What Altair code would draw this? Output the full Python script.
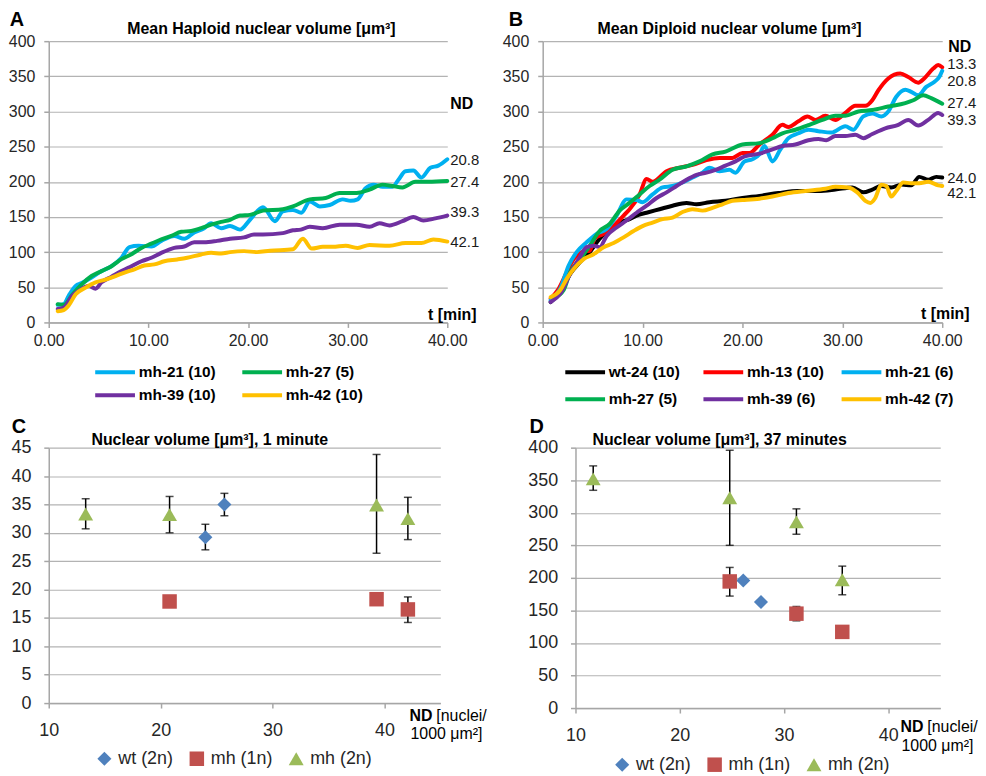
import altair as alt
import pandas as pd

FONT = "Liberation Sans"

# ---------------- Panel A: mean haploid nuclear volume ----------------
A_NAMES = ["mh-21 (10)", "mh-27 (5)", "mh-39 (10)", "mh-42 (10)"]
A_COLORS = ["#00B0F0", "#00B050", "#7030A0", "#FFC000"]
A_ND = ["20.8", "27.4", "39.3", "42.1"]

A_MH21_T = [0.9, 1.5, 2, 2.7, 3.3, 4.3, 5.3, 6.3, 7.3, 8.1, 9, 10.3, 11.3, 12.6, 13.6, 14.6, 15.6, 16.3, 17.3,
            18.2, 19.2, 20.2, 21.5, 22.7, 23.5, 24.5, 25.35, 26.2, 27.2, 28.2, 29.5, 30.3, 31, 31.8, 32.6, 33.5,
            34.5, 35.1, 35.8, 36.6, 37.4, 38.3, 39.1, 40]
A_MH21_V = [25, 26, 38, 52, 56, 64, 73, 80, 92, 107, 109, 108, 116, 123, 119, 128, 134, 141, 134,
            137, 132, 146, 164, 144, 158, 160, 156, 172, 165, 167, 175, 173, 175, 191, 196, 193,
            193, 203, 215, 216, 206, 220, 223, 232]

A_MH27_T = [0.9, 1.5, 2.4, 3.3, 4.3, 5.3, 6.3, 7.3, 8.3, 9.3, 10.3, 11.3, 12.3, 13.3, 14.3, 15.3, 16.3, 17.3,
            18.2, 19.2, 20.2, 21.5, 23.5, 24.5, 26.2, 27.8, 29.2, 30.9, 32.2, 33.5, 34.5, 35.5, 36.8, 38.1, 40]
A_MH27_V = [26, 25, 40, 54, 66, 73, 80, 90, 97, 106, 112, 118, 123, 129, 130, 134, 139, 143,
            146, 152, 153, 159, 161, 165, 175, 177, 184, 184, 189, 196, 194, 192, 200, 200, 201]

A_MH39_T = [0.9, 1.5, 2.35, 3, 4, 4.7, 5.3, 6.3, 7.3, 8.3, 9.3, 10.3, 11.3, 12.6, 13.6, 14.6, 15.6, 16.9,
            18.2, 19.6, 20.6, 21.5, 23.5, 24.5, 25.3, 26.2, 27.5, 29.2, 30.9, 32.2, 33.2, 34.2, 35.5, 36.6,
            37.6, 38.8, 40]
A_MH39_V = [19, 21, 38, 45, 52, 48, 57, 65, 73, 80, 87, 92, 99, 106, 108, 114, 114, 116,
            119, 121, 125, 125, 127, 131, 132, 136, 134, 139, 139, 136, 141, 138, 144, 150,
            145, 148, 152]

A_MH42_T = [0.9, 1.5, 2, 2.7, 3.7, 4.7, 5.7, 6.7, 7.6, 8.6, 9.6, 10.6, 11.6, 12.9, 13.9, 15.3, 16.3, 17.3,
            18.2, 19.6, 20.9, 22.2, 24.5, 25.5, 26.4, 27.5, 28.5, 29.8, 31, 32.2, 34.2, 35.8, 37.4, 38.6, 40]
A_MH42_V = [16, 17.5, 24, 40, 49.5, 57, 61, 66, 71, 75.5, 81, 82.5, 87, 89.6, 92, 96.7, 99, 98,
            100, 101.4, 100, 102, 104, 119, 105, 107.5, 107.5, 109, 106, 110, 109, 113, 113, 118, 115]

# ---------------- Panel B: mean diploid nuclear volume ----------------
B_NAMES = ["wt-24 (10)", "mh-13 (10)", "mh-21 (6)", "mh-27 (5)", "mh-39 (6)", "mh-42 (7)"]
B_COLORS = ["#000000", "#FF0000", "#00B0F0", "#00B050", "#7030A0", "#FFC000"]
B_ND = ["24.0", "13.3", "20.8", "27.4", "39.3", "42.1"]

B_WT24_T = [0.8, 1.76, 2.75, 3.75, 4.7, 5.7, 6.7, 7.7, 8.7, 9.4, 10.4, 11.7, 13, 14.4, 15.4, 16.7, 18.3, 20,
            21.7, 23.6, 25.6, 27.6, 29.3, 31, 32.1, 33, 33.9, 34.9, 35.9, 36.9, 37.7, 38.6, 39.4, 40]
B_WT24_V = [29, 43, 69, 86, 100, 119, 133, 142, 147, 152, 156, 161, 166, 170, 168, 171, 173, 177,
            180, 184, 187, 187, 189, 192, 185, 189, 194, 192, 196, 195, 207, 203, 207, 206]

B_MH13_T = [0.8, 1.6, 2.4, 3.1, 4.1, 4.7, 5.2, 6.1, 7.1, 8.1, 8.7, 9.7, 10.4, 11, 12.4, 13.7, 15, 16.4, 17.7,
            19, 20, 20.7, 21.7, 23, 24, 24.6, 25.6, 26.5, 27.3, 28.3, 29.3, 30.3, 31.3, 32.3, 33, 33.6, 34.6,
            35.8, 36.6, 37.6, 38.2, 39.1, 39.6, 40]
B_MH13_V = [34, 48, 71, 90, 101, 102, 119, 126, 137, 152, 161, 182, 204, 200, 215, 220, 224, 231, 234,
            234, 241, 241, 253, 267, 281, 278, 286, 293, 288, 294, 288, 298, 308, 308, 316, 330, 347,
            354, 349, 341, 347, 361, 366, 363]

B_MH21_T = [0.8, 1.76, 2.6, 3.4, 4.4, 5.4, 6.4, 7.4, 8.4, 9.4, 10, 11, 12, 13, 14, 15, 16, 16.7, 17.7, 18.7,
            19.3, 20.2, 21, 21.7, 22.2, 23, 23.8, 24.6, 25.6, 26.6, 27.6, 28.9, 30.3, 31.1, 32.1, 33, 33.9,
            34.6, 35.4, 36.3, 36.9, 37.6, 38.4, 39.2, 39.7, 40]
B_MH21_V = [31.5, 48, 81, 100, 114, 126, 133, 152, 175, 174, 171, 182, 192, 194, 199, 206, 213, 220, 215, 217,
            213, 229, 232, 239, 251, 229, 246, 262, 269, 274, 272, 270, 279, 274, 293, 297, 293,
            300, 321, 331, 328, 323, 335, 342, 349, 358]

B_MH27_T = [1.1, 2.1, 2.75, 3.75, 4.7, 5.7, 6.7, 7.7, 8.7, 9.7, 10.7, 11.7, 13, 14.4, 15.7, 17, 18.3, 20,
            21.7, 23, 24, 25.3, 26.7, 28, 29.3, 30.3, 31.6, 33, 34.6, 36.3, 37.1, 38.1, 38.9, 40]
B_MH27_V = [34, 46, 71.5, 90, 109, 130, 140, 159, 170, 182, 194, 203, 217, 222, 229, 239, 243, 253,
            255, 262, 269, 274, 281, 288, 294, 294, 300, 302, 307, 312, 316, 323, 319, 311]

B_MH39_T = [0.8, 1.76, 2.75, 3.6, 4.4, 5.1, 5.7, 6.4, 7.4, 8.4, 9.4, 10.4, 11.4, 12.4, 13.4, 14.4, 15.4, 16.4,
            17.3, 18.3, 19.3, 20.2, 21.7, 23, 24, 25.3, 26.6, 27.6, 28.4, 29.3, 30.3, 31.3, 32.1, 33, 34.3,
            35.6, 36.6, 37.6, 38.6, 39.6, 40]
B_MH39_V = [29, 41, 69, 90, 107, 109, 107, 123, 135, 145, 156, 166, 177, 185, 194, 203, 210, 213,
            217, 223, 229, 236, 240, 246, 251, 253, 259, 261, 259, 265, 265, 267, 262, 268, 276,
            281, 288, 280, 288, 298, 295]

B_MH42_T = [0.8, 1.76, 2.4, 3.1, 4.1, 5.1, 6.1, 7.1, 8.1, 9.1, 10, 11, 12, 13, 14, 15, 16, 17, 18, 19, 20,
            21.7, 23, 24.6, 26.3, 28.3, 29.3, 30.6, 31.5, 32.3, 32.8, 33.3, 33.9, 34.4, 34.9, 35.4, 36.1,
            36.9, 37.7, 38.6, 39.6, 40]
B_MH42_V = [36, 46, 62, 76, 90, 97, 107, 113, 121, 130, 137, 142, 147, 149, 157, 161, 159, 163, 168, 173, 174,
            176, 179, 184, 187, 190, 193, 192, 185, 173, 170, 177, 196, 194, 179, 187, 199,
            198, 198, 200, 195, 194]

# ---------------- Panels C and D: nuclear volume vs ND ----------------
GROUPS = ["wt (2n)", "mh (1n)", "mh (2n)"]
GROUP_COLORS = ["#4F81BD", "#C0504D", "#9BBB59"]
GROUP_SHAPES = ["diamond", "square", "triangle-up"]
GROUP_SIZES = [200, 225, 270]

# 1 minute
C_WT_ND = [24.0, 25.7]
C_WT_V = [29.2, 35.0]
C_WT_LO = [27.0, 33.0]
C_WT_HI = [31.5, 36.95]
C_MH1_ND = [20.8, 39.3, 42.1]
C_MH1_V = [17.9, 18.3, 16.5]
C_MH1_LO = [17.9, 18.3, 14.2]
C_MH1_HI = [17.9, 18.3, 18.7]
C_MH2_ND = [13.3, 20.8, 39.3, 42.1]
C_MH2_V = [33.3, 33.2, 34.9, 32.5]
C_MH2_LO = [30.7, 30.0, 26.4, 28.8]
C_MH2_HI = [36.0, 36.4, 43.8, 36.25]

# 37 minutes
D_WT_ND = [26.1, 27.8]
D_WT_V = [196, 163]
D_WT_LO = [196, 163]
D_WT_HI = [196, 163]
D_MH1_ND = [24.8, 31.2, 35.6]
D_MH1_V = [194.5, 145, 117]
D_MH1_LO = [172, 134, 117]
D_MH1_HI = [216, 156, 117]
D_MH2_ND = [11.7, 24.8, 31.2, 35.6]
D_MH2_V = [352, 323, 286, 197]
D_MH2_LO = [334.5, 250, 267, 174]
D_MH2_HI = [372, 396, 306, 218]

# label nudges (style only, in data units) so end labels do not collide
A_NUDGE = [-1, -1, 5, 0]
B_NUDGE = [0, 4, -14, 1, -7, -10]

# legend line symbol: a 40px stroke drawn to the right of a 10px nominal symbol box
LINE_SYMBOL = "M-1,0L7,0"


def lines_df(names, ts, vs):
    rows = []
    for n, tt, vv in zip(names, ts, vs):
        for t, v in zip(tt, vv):
            rows.append({"t": t, "v": v, "s": n})
    return pd.DataFrame(rows)


def end_labels(names, vs, nds, nudges):
    return pd.DataFrame({"t": [40] * len(names), "v": [v[-1] + d for v, d in zip(vs, nudges)],
                         "lab": nds})


def txt(text, x, y, size, weight="normal", align="left"):
    return alt.Chart(pd.DataFrame({"txt": [text]})).mark_text(
        font=FONT, fontSize=size, fontWeight=weight, align=align, baseline="alphabetic", color="black"
    ).encode(x=alt.value(x), y=alt.value(y), text="txt:N")


def line_panel(df, lab_df, names, colors, W, H, letter, letter_x, title, title_x, nd_x, nd_y,
               t_dx, t_dy, lab_dx, leg_x, leg_y, leg_cols, col_pad, row_pad):
    xenc = alt.X("t:Q", scale=alt.Scale(domain=[0, 40], nice=False, zero=False),
                 axis=alt.Axis(values=[0, 10, 20, 30, 40], format=".2f", grid=False, labelFontSize=16,
                               labelPadding=5, labelFlush=False, labelOverlap=False,
                               title="t [min]", titleX=W + t_dx, titleY=t_dy,
                               titleAlign="right", titleBaseline="middle", titleFontSize=16,
                               titleFontWeight="bold", titleColor="black"))
    yenc = alt.Y("v:Q", scale=alt.Scale(domain=[0, 400], nice=False),
                 axis=alt.Axis(values=list(range(0, 401, 50)), grid=True, labelFontSize=16,
                               labelPadding=9, labelFlush=False, labelOverlap=False, title=None))
    lines = alt.Chart(df).mark_line(strokeWidth=4, interpolate="monotone", strokeCap="round",
                                    strokeJoin="round").encode(
        x=xenc, y=yenc,
        color=alt.Color("s:N", scale=alt.Scale(domain=names, range=colors), sort=names,
                        legend=alt.Legend(orient="none", legendX=leg_x, legendY=leg_y, direction="horizontal",
                                          columns=leg_cols, symbolType=LINE_SYMBOL, symbolSize=100,
                                          symbolStrokeWidth=4, labelFontSize=15.5, labelFontWeight="bold",
                                          labelFont=FONT, labelColor="black", labelOffset=31,
                                          columnPadding=col_pad, rowPadding=row_pad, gridAlign="all",
                                          title=None, padding=0, labelLimit=300)),
    )
    labels = alt.Chart(lab_df).mark_text(font=FONT, fontSize=15, align="left", baseline="middle",
                                         dx=lab_dx, color="#1a1a1a").encode(x=xenc, y=yenc, text="lab:N")
    return alt.layer(
        lines, labels,
        txt(letter, letter_x, -15, 20, "bold", "center"),
        txt(title, title_x, -7, 16, "bold", "center"),
        txt("ND", W + nd_x, nd_y, 16, "bold"),
    ).properties(width=W, height=H)


def scatter_df(nd_lists, v_lists, lo_lists, hi_lists):
    rows = []
    for g, nds, vs, los, his in zip(GROUPS, nd_lists, v_lists, lo_lists, hi_lists):
        for nd, v, lo, hi in zip(nds, vs, los, his):
            rows.append({"nd": nd, "vol": v, "lo": lo, "hi": hi, "grp": g})
    return pd.DataFrame(rows)


def scatter_panel(df, W, H, ymax, ystep, letter, letter_x, title, title_x, leg_x, leg_y,
                  nd_x, nd_y1, nd_y2):
    xenc = lambda f: alt.X(f"{f}:Q", scale=alt.Scale(domain=[10, 45], nice=False, zero=False),
                           axis=alt.Axis(values=[10, 20, 30, 40], grid=False, labelFontSize=18,
                                         labelPadding=14, labelFlush=False, labelOverlap=False, title=None))
    yaxis = alt.Axis(values=list(range(0, ymax + 1, ystep)), grid=True, labelFontSize=18,
                     labelPadding=13, labelFlush=False, labelOverlap=False, title=None)
    yscale = alt.Scale(domain=[0, ymax], nice=False)
    err = df[df["hi"] > df["lo"]]
    rule = alt.Chart(err).mark_rule(color="black", strokeWidth=1.5).encode(
        x=xenc("nd"), y=alt.Y("lo:Q", scale=yscale, axis=yaxis), y2="hi:Q")
    cap_lo = alt.Chart(err).mark_tick(orient="horizontal", color="black", size=8, thickness=1.5).encode(
        x=xenc("nd"), y=alt.Y("lo:Q", scale=yscale, axis=yaxis))
    cap_hi = alt.Chart(err).mark_tick(orient="horizontal", color="black", size=8, thickness=1.5).encode(
        x=xenc("nd"), y=alt.Y("hi:Q", scale=yscale, axis=yaxis))
    leg = alt.Legend(orient="none", legendX=leg_x, legendY=leg_y, direction="horizontal", columns=3,
                     symbolSize=130, labelFontSize=18, labelFont=FONT, labelColor="#262626",
                     labelOffset=5, columnPadding=14, title=None, padding=0, symbolStrokeWidth=0)
    pts = alt.Chart(df).mark_point(filled=True, opacity=1).encode(
        x=xenc("nd"), y=alt.Y("vol:Q", scale=yscale, axis=yaxis),
        color=alt.Color("grp:N", scale=alt.Scale(domain=GROUPS, range=GROUP_COLORS), sort=GROUPS, legend=leg),
        shape=alt.Shape("grp:N", scale=alt.Scale(domain=GROUPS, range=GROUP_SHAPES), sort=GROUPS, legend=leg),
        size=alt.Size("grp:N", scale=alt.Scale(domain=GROUPS, range=GROUP_SIZES), legend=None),
    )
    return alt.layer(
        rule, cap_lo, cap_hi, pts,
        txt(letter, letter_x, -15, 20, "bold", "center"),
        txt(title, title_x, -3, 16, "bold", "center"),
        txt("ND", W + nd_x, nd_y1, 16, "bold"),
        txt("[nuclei/", W + nd_x + 27, nd_y1, 16),
        txt("1000 μm²]", W + nd_x + 1, nd_y2, 16),
    ).properties(width=W, height=H)


A_df = lines_df(A_NAMES, [A_MH21_T, A_MH27_T, A_MH39_T, A_MH42_T], [A_MH21_V, A_MH27_V, A_MH39_V, A_MH42_V])
A_lab = end_labels(A_NAMES, [A_MH21_V, A_MH27_V, A_MH39_V, A_MH42_V], A_ND, A_NUDGE)
B_T = [B_WT24_T, B_MH13_T, B_MH21_T, B_MH27_T, B_MH39_T, B_MH42_T]
B_V = [B_WT24_V, B_MH13_V, B_MH21_V, B_MH27_V, B_MH39_V, B_MH42_V]
B_df = lines_df(B_NAMES, B_T, B_V)
B_lab = end_labels(B_NAMES, B_V, B_ND, B_NUDGE)

panelA = line_panel(A_df, A_lab, A_NAMES, A_COLORS, 401, 283, "A", -32,
                    "Mean Haploid nuclear volume [μm³]", 214, 3, 68, 29, -8, 3, 44, 325, 2, 17, 5.5)
panelB = line_panel(B_df, B_lab, B_NAMES, B_COLORS, 402, 283, "B", -27,
                    "Mean Diploid nuclear volume [μm³]", 188, 6, 11, 27, -9, 5, 20, 325, 3, 8, 9.5)

C_df = scatter_df([C_WT_ND, C_MH1_ND, C_MH2_ND], [C_WT_V, C_MH1_V, C_MH2_V],
                  [C_WT_LO, C_MH1_LO, C_MH2_LO], [C_WT_HI, C_MH1_HI, C_MH2_HI])
D_df = scatter_df([D_WT_ND, D_MH1_ND, D_MH2_ND], [D_WT_V, D_MH1_V, D_MH2_V],
                  [D_WT_LO, D_MH1_LO, D_MH2_LO], [D_WT_HI, D_MH1_HI, D_MH2_HI])

panelC = scatter_panel(C_df, 394, 257, 45, 5, "C", -30, "Nuclear volume [μm³], 1 minute", 162,
                       47, 304, -31, 275, 293)
panelD = scatter_panel(D_df, 367, 262, 400, 50, "D", -39, "Nuclear volume [μm³], 37 minutes", 145,
                       38, 310, -40, 286, 305)

row1 = alt.hconcat(panelA, panelB, spacing=96, bounds="flush").resolve_scale(
    color="independent", x="independent", y="independent").resolve_legend(color="independent")
row2 = alt.hconcat(panelC, panelD, spacing=136, bounds="flush").resolve_scale(
    color="independent", shape="independent", size="independent", x="independent", y="independent"
).resolve_legend(color="independent", shape="independent")

# with flush bounds the nested row counts as zero height, so the spacing carries row 1's 283px
chart = alt.vconcat(row1, row2, spacing=409, bounds="flush").resolve_scale(
    color="independent", shape="independent", size="independent", x="independent", y="independent"
).resolve_legend(color="independent", shape="independent").properties(
    padding={"left": 0, "top": 0, "right": 0, "bottom": 0}
).configure_axis(
    domainColor="#a6a6a6", domainWidth=1.5, tickColor="#a6a6a6", tickWidth=1.5, tickSize=5,
    gridColor="#b3b3b3", gridWidth=1.2, labelFont=FONT, titleFont=FONT, labelColor="#262626"
).configure_view(stroke=None)

chart.save("out.html", embed_options={"renderer": "svg", "actions": False})
